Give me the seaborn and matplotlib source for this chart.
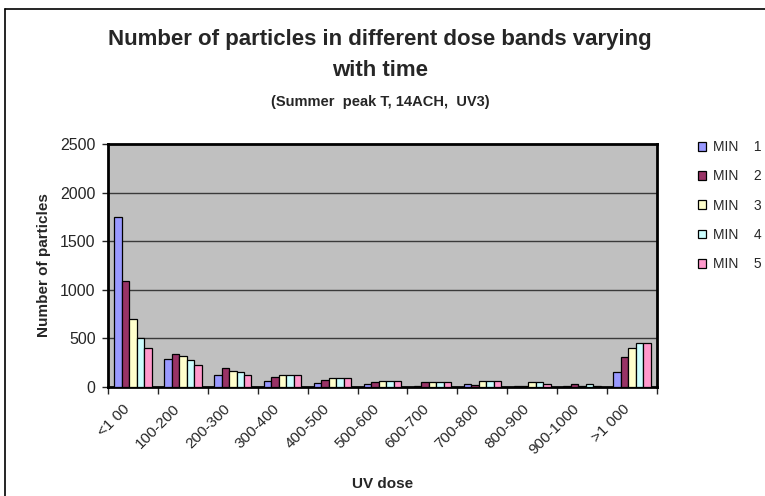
import seaborn as sns
import matplotlib.pyplot as plt
import matplotlib.lines as mlines
import matplotlib.transforms as mtrans
import pandas as pd
from matplotlib.ticker import FixedLocator

# dose bands on the x axis
bands = ["<1 00", "100-200", "200-300", "300-400", "400-500", "500-600",
         "600-700", "700-800", "800-900", "900-1000", ">1 000"]

# particle counts per minute
min1 = [1750, 290, 120, 62, 41, 30, 12, 30, 10, 8, 150]
min2 = [1090, 340, 196, 103, 75, 48, 48, 24, 15, 30, 306]
min3 = [700, 323, 168, 120, 90, 65, 48, 65, 48, 10, 400]
min4 = [500, 275, 151, 120, 90, 65, 48, 65, 48, 30, 450]
min5 = [400, 230, 120, 120, 90, 65, 48, 65, 28, 8, 450]

series = ["MIN    1", "MIN    2", "MIN    3", "MIN    4", "MIN    5"]
palette = ["#9999FF", "#993366", "#FFFFCC", "#CCFFFF", "#FF99CC"]

rows = []
for name, vals in zip(series, [min1, min2, min3, min4, min5]):
    for band, v in zip(bands, vals):
        rows.append({"band": band, "series": name, "count": v})
df = pd.DataFrame(rows)

sns.set_style("white")
plt.rcParams['font.family'] = ['Liberation Sans', 'DejaVu Sans']

fig = plt.figure(figsize=(7.65, 4.96), dpi=100)
ax = fig.add_axes([108 / 765, 1 - 387 / 496, 549 / 765, 243 / 496])
ax.set_facecolor("#C0C0C0")

sns.barplot(data=df, x="band", y="count", hue="series", order=bands,
            hue_order=series, palette=palette, width=0.75, gap=0,
            edgecolor="black", linewidth=0.9, saturation=1, ax=ax, zorder=3)

ax.set_ylim(0, 2500)
ax.set_xlim(-0.5, len(bands) - 0.5)
ax.set_yticks(range(0, 2501, 500))
for y in range(500, 2500, 500):
    ax.axhline(y, color="#3a3a3a", lw=1, zorder=1)

for s in ax.spines.values():
    s.set_visible(True)
    s.set_color("black")
    s.set_linewidth(2)

ax.tick_params(axis="y", labelsize=11.5, direction="out", length=4, width=1,
               left=True, pad=5)
ax.tick_params(axis="x", which="major", length=0, labelsize=11, pad=4)
ax.xaxis.set_minor_locator(FixedLocator([i - 0.5 for i in range(len(bands) + 1)]))
ax.tick_params(axis="x", which="minor", direction="out", length=5, width=1,
               bottom=True)
shift = mtrans.ScaledTranslation(-10 / 100, -9 / 100, fig.dpi_scale_trans)
for lab in ax.get_xticklabels():
    lab.set_rotation(45)
    lab.set_ha("right")
    lab.set_rotation_mode("anchor")
    lab.set_transform(lab.get_transform() + shift)

ax.set_xlabel("UV dose", fontsize=11, fontweight="bold")
ax.xaxis.set_label_coords(0.5, -0.372)
ax.set_ylabel("Number of particles", fontsize=11, fontweight="bold")
ax.yaxis.set_label_coords(-0.104, 0.5)

fig.text(0.497, 1 - 40 / 496, "Number of particles in different dose bands varying",
         ha="center", va="center", fontsize=16, fontweight="bold")
fig.text(0.497, 1 - 71 / 496, "with time", ha="center", va="center",
         fontsize=16, fontweight="bold")
fig.text(0.497, 1 - 102 / 496, "(Summer  peak T, 14ACH,  UV3)", ha="center",
         va="center", fontsize=10.5, fontweight="bold")

leg = ax.legend(loc="upper left", bbox_to_anchor=(698 / 765, 1 - 140 / 496),
                bbox_transform=fig.transFigure, frameon=False, fontsize=10,
                handlelength=0.6, handleheight=0.6, handletextpad=0.5,
                labelspacing=1.1, borderpad=0, borderaxespad=0)

# outer chart border (top and left visible in the reference)
fig.add_artist(mlines.Line2D([5 / 765, 5 / 765], [0, 1 - 9 / 496],
                             transform=fig.transFigure, color="black", lw=1.2))
fig.add_artist(mlines.Line2D([5 / 765, 1], [1 - 9 / 496, 1 - 9 / 496],
                             transform=fig.transFigure, color="black", lw=1.2))

fig.savefig("out.png", dpi=100)
